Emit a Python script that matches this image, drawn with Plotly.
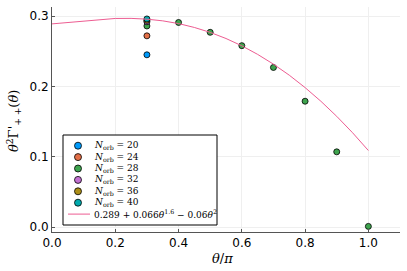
import plotly.graph_objects as go

# ---- data ----
n_orb = [20, 24, 28, 32, 36, 40]
colors = ["#009AFA", "#E36F47", "#3EA44E", "#C371D2", "#AC8E18", "#00AAAE"]

x20 = [0.3]; y20 = [0.245]
x24 = [0.3]; y24 = [0.272]
x28 = [0.3, 0.4, 0.5, 0.6, 0.7, 0.8, 0.9, 1.0]
y28 = [0.286, 0.291, 0.277, 0.258, 0.227, 0.179, 0.107, 0.001]
x32 = [0.3]; y32 = [0.292]
x36 = [0.3]; y36 = [0.294]
x40 = [0.3]; y40 = [0.296]

fit_x = [0.0, 0.05, 0.1, 0.15, 0.2, 0.25, 0.3, 0.35, 0.4, 0.45, 0.5,
         0.55, 0.6, 0.65, 0.7, 0.75, 0.8, 0.85, 0.9, 0.95, 1.0]
fit_y = [0.2890, 0.2909, 0.2934, 0.2955, 0.2967, 0.2968, 0.2957, 0.2933,
         0.2894, 0.2839, 0.2769, 0.2682, 0.2578, 0.2456, 0.2317, 0.2160,
         0.1984, 0.1789, 0.1575, 0.1342, 0.1089]
fit_label = "0.289 + 0.066<i>θ</i><sup>1.6</sup> − 0.06<i>θ</i><sup>2</sup>"

xticks = [0.0, 0.2, 0.4, 0.6, 0.8, 1.0]
yticks = [0.0, 0.1, 0.2, 0.3]

x_title = "<i>θ</i>/<i>π</i>"
y_title = "<i>θ</i><sup>2</sup>Γ'<sub>+ +</sub>(<i>θ</i>)"

series = [(x20, y20), (x24, y24), (x28, y28), (x32, y32), (x36, y36), (x40, y40)]
labels = [f"<i>N</i><sub>orb</sub> = {n}" for n in n_orb] + [fit_label]

LINE_COLOR = "#ED5D92"
serif = "DejaVu Serif"

fig = go.Figure()
for lab, c, (xs, ys) in zip(labels, colors, series):
    fig.add_trace(go.Scatter(
        x=xs, y=ys, mode="markers", showlegend=False,
        marker=dict(color=c, size=6, line=dict(color="black", width=0.8)),
        name=lab))
fig.add_trace(go.Scatter(x=fit_x, y=fit_y, mode="lines", showlegend=False,
                         line=dict(color=LINE_COLOR, width=1), name=fit_label))

# ---- hand-made compact legend (overlay axes in plot-area fractions) ----
W, H = 348.0, 225.0            # plot area size in px
box_l, box_r = 11 / W, 165 / W
box_b, box_t = 7 / H, 97 / H
row0, step = 86.3, 11.4        # px from plot bottom of first row, row spacing
rows = [(row0 - i * step) / H for i in range(7)]
mk_x = 26 / W
txt_x = 40 / W

fig.add_trace(go.Scatter(
    x=[box_l, box_r, box_r, box_l, box_l], y=[box_b, box_b, box_t, box_t, box_b],
    xaxis="x2", yaxis="y2", mode="lines", fill="toself", fillcolor="white",
    line=dict(color="black", width=1), showlegend=False, hoverinfo="skip"))
fig.add_trace(go.Scatter(
    x=[mk_x] * 6, y=rows[:6], xaxis="x2", yaxis="y2", mode="markers",
    showlegend=False, hoverinfo="skip",
    marker=dict(color=colors, size=7, line=dict(color="black", width=0.8))))
fig.add_trace(go.Scatter(
    x=[16 / W, 38 / W], y=[rows[6], rows[6]], xaxis="x2", yaxis="y2", mode="lines",
    showlegend=False, hoverinfo="skip", line=dict(color=LINE_COLOR, width=1)))
for lab, ry in zip(labels, rows):
    fig.add_annotation(x=txt_x, y=ry, xref="paper", yref="paper", text=lab,
                       showarrow=False, xanchor="left", yanchor="middle",
                       font=dict(family=serif, size=9, color="black"))

# axis titles
fig.add_annotation(x=(222 - 52) / W, y=-26 / H, xref="paper", yref="paper",
                   text=x_title, showarrow=False, xanchor="center", yanchor="middle",
                   font=dict(family=serif, size=13, color="black"))
fig.add_annotation(x=-38 / W, y=(232 - 121) / H, xref="paper", yref="paper",
                   text=y_title, showarrow=False, textangle=-90,
                   xanchor="center", yanchor="middle",
                   font=dict(family=serif, size=13, color="black"))

axis_common = dict(showgrid=True, gridcolor="#EFEFEF", gridwidth=1,
                   showline=True, linecolor="#555555", linewidth=1,
                   ticks="inside", ticklen=3, tickcolor="#555555", zeroline=False)

fig.update_layout(
    width=407, height=271,
    margin=dict(l=52, r=7, t=7, b=39),
    paper_bgcolor="white", plot_bgcolor="white",
    font=dict(family="DejaVu Sans", size=12, color="black"),
    showlegend=False,
    xaxis=dict(range=[0, 1.1], tickvals=xticks, ticktext=[f"{v:.1f}" for v in xticks],
               **axis_common),
    yaxis=dict(range=[-0.007, 0.313], tickvals=yticks, ticktext=[f"{v:.1f}" for v in yticks],
               **axis_common),
    xaxis2=dict(overlaying="x", range=[0, 1], visible=False, anchor="y2"),
    yaxis2=dict(overlaying="y", range=[0, 1], visible=False, anchor="x2"),
)
fig.write_html("out.html", config={"displayModeBar": False},
               post_script="document.body.style.margin='0';")
